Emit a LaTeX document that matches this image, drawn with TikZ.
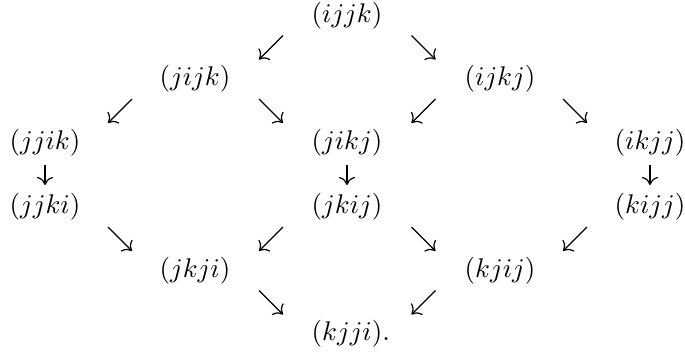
\documentclass[tikz,border=0pt]{standalone}
\usetikzlibrary{arrows.meta,calc}
\tikzset{
  lbl/.style={inner sep=0pt, font=\fontsize{10.2}{12}\selectfont},
  arr/.style={line width=0.45pt, -{Computer Modern Rightarrow[length=3pt,width=6pt]}},
}
\newcommand\marr[3]{\draw[arr] ($(#1)!0.5!(#2)-(#3)$) -- ($(#1)!0.5!(#2)+(#3)$);}
\begin{document}
\begin{tikzpicture}[x=0.37pt,y=-0.37pt]
\useasboundingbox (0,0) rectangle (685,356);
\node[lbl] (ijjk) at (347,16) {$(ijjk)$};
\node[lbl] (jijk) at (195,79) {$(jijk)$};
\node[lbl] (ijkj) at (500,79) {$(ijkj)$};
\node[lbl] (jjik) at (45,143) {$(jjik)$};
\node[lbl] (jikj) at (347,143) {$(jikj)$};
\node[lbl] (ikjj) at (650,143) {$(ikjj)$};
\node[lbl] (jjki) at (45,207) {$(jjki)$};
\node[lbl] (jkij) at (347,207) {$(jkij)$};
\node[lbl] (kijj) at (650,207) {$(kijj)$};
\node[lbl] (jkji) at (195,271) {$(jkji)$};
\node[lbl] (kjij) at (500,271) {$(kjij)$};
\node[lbl] (kjji) at (347,334) {$(kjji)$\rlap{.}};
\marr{ijjk}{jijk}{-12,12}
\marr{ijjk}{ijkj}{12,12}
\marr{jijk}{jjik}{-12,12}
\marr{jijk}{jikj}{12,12}
\marr{ijkj}{jikj}{-12,12}
\marr{ijkj}{ikjj}{12,12}
\marr{jjik}{jjki}{0,10}
\marr{jikj}{jkij}{0,10}
\marr{ikjj}{kijj}{0,10}
\marr{jjki}{jkji}{12,12}
\marr{jkij}{jkji}{-12,12}
\marr{jkij}{kjij}{12,12}
\marr{kijj}{kjij}{-12,12}
\marr{jkji}{kjji}{12,12}
\marr{kjij}{kjji}{-12,12}
\end{tikzpicture}
\end{document}
